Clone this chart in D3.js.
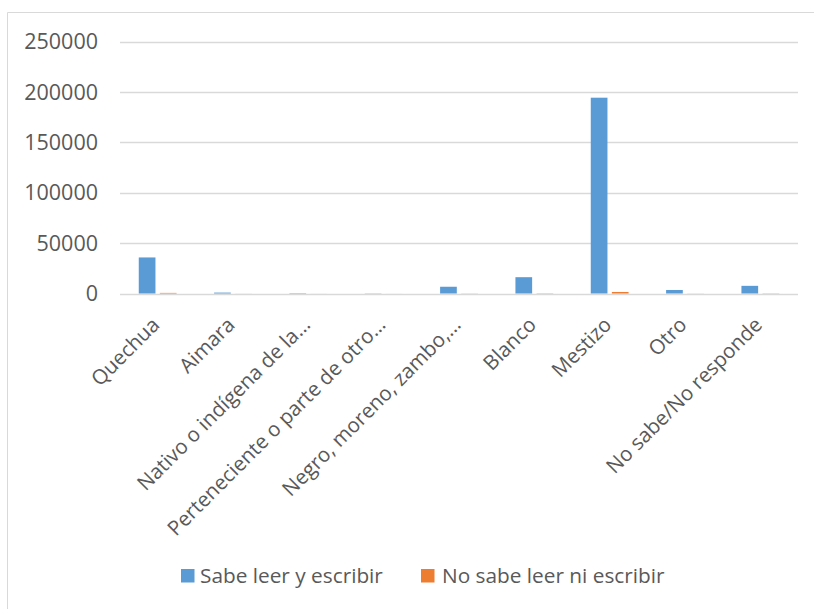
<!DOCTYPE html>
<html><head><meta charset="utf-8">
<script src="https://cdn.jsdelivr.net/npm/d3@7"></script>
<style>body{margin:0;background:#fff}svg{display:block}</style>
</head><body>
<script>
const categories = ["Quechua","Aimara","Nativo o indígena de la…","Perteneciente o parte de otro…","Negro, moreno, zambo,…","Blanco","Mestizo","Otro","No sabe/No responde"];
const sabeLeer = [35800, 900, 350, 200, 6700, 16200, 194400, 3500, 7600];
const noSabe = [600, 60, 40, 30, 150, 250, 1500, 100, 200];
const seriesNames = ["Sabe leer y escribir","No sabe leer ni escribir"];
const colors = ["#5b9bd5","#ed7d31"];
const yTicks = [0,50000,100000,150000,200000,250000];

const W=814,H=609;
const svg=d3.select("body").append("svg").attr("width",W).attr("height",H);
const font="'Open Sans', sans-serif", fc="#595959";

svg.append("path").attr("d",`M7.5,${H}V12.5H${W}`).attr("fill","none").attr("stroke","#d9d9d9").attr("stroke-width",1);

const x=d3.scaleBand().domain(categories).range([120,798]);
const y=d3.scaleLinear().domain([0,250000]).range([293.5,41.7]);

const g=svg.append("g");
g.selectAll("line.grid").data(yTicks).join("line")
 .attr("x1",120).attr("x2",798).attr("y1",d=>Math.round(y(d))+0.5).attr("y2",d=>Math.round(y(d))+0.5)
 .attr("stroke","#d9d9d9").attr("stroke-width",1.5);

g.selectAll("text.yt").data(yTicks).join("text")
 .attr("x",98).attr("y",d=>y(d)).attr("dy","0.35em").attr("text-anchor","end")
 .attr("font-family",font).attr("font-size",21.5).attr("fill",fc).text(d=>d);

const bw=16.7, gap=4.4;
const data=[sabeLeer,noSabe];
data.forEach((arr,si)=>{
  g.selectAll("rect.s"+si).data(arr).join("rect")
   .attr("x",(d,i)=>x(categories[i])+x.bandwidth()/2+(si===0?-gap/2-bw:gap/2))
   .attr("width",bw)
   .attr("y",d=>y(d)).attr("height",d=>y(0)-y(d))
   .attr("fill",colors[si]);
});

g.selectAll("text.xl").data(categories).join("text")
 .attr("transform",d=>`translate(${x(d)+x.bandwidth()/2-2},${321}) rotate(-45)`)
 .attr("text-anchor","end").attr("dy","0.35em")
 .attr("font-family",font).attr("font-size",20.5).attr("fill",fc).text(d=>d);

const leg=[{x:181,tx:200},{x:421,tx:442}];
seriesNames.forEach((n,i)=>{
  svg.append("rect").attr("x",leg[i].x).attr("y",569).attr("width",13.5).attr("height",13.5).attr("fill",colors[i]);
  svg.append("text").attr("x",leg[i].tx).attr("y",583).attr("font-family",font).attr("font-size",20.8).attr("fill",fc).text(n);
});
</script>
</body></html>
